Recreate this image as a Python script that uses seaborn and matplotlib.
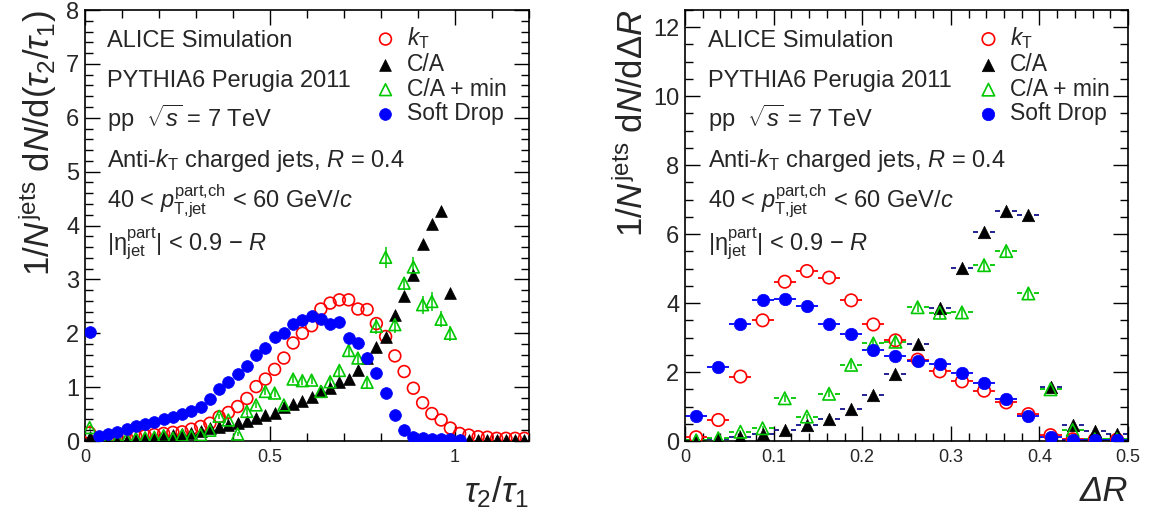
import numpy as np
import pandas as pd
import matplotlib
matplotlib.use("Agg")
import matplotlib.pyplot as plt
from matplotlib.path import Path
from matplotlib.ticker import MultipleLocator, FuncFormatter
import seaborn as sns

# ---- tau2/tau1 panel: 48 bins of width 0.025 on [0, 1.2]
tau_edges = np.linspace(0, 1.2, 49)
tau_x = 0.5 * (tau_edges[1:] + tau_edges[:-1])

kt_tau = [0.15, 0.03, 0.04, 0.05, 0.06, 0.08, 0.10, 0.12, 0.14, 0.16, 0.17, 0.22,
          0.27, 0.33, 0.45, 0.53, 0.64, 0.79, 1.01, 1.15, 1.33, 1.54, 1.82, 2.00,
          2.14, 2.45, 2.56, 2.62, 2.62, 2.45, 2.44, 2.18, 1.94, 1.58, 1.29, 0.98,
          0.71, 0.51, 0.39, 0.24, 0.14, 0.11, 0.08, 0.07, 0.05, 0.05, 0.05, 0.05]
ca_tau = [0.08, 0.01, 0.01, 0.02, 0.02, 0.03, 0.05, 0.07, 0.10, 0.11, 0.13, 0.15,
          0.18, 0.24, 0.26, 0.29, 0.33, 0.38, 0.42, 0.48, 0.52, 0.63, 0.68, 0.75,
          0.82, 0.92, 0.98, 1.10, 1.15, 1.32, 1.54, 1.74, 1.94, 2.34, 2.69, 3.09,
          3.65, 4.02, 4.27, 2.75, 0.01, 0.02, 0.02, 0.02, 0.02, 0.02, 0.02, 0.02]
camin_tau = [0.25, 0.02, 0.02, 0.03, 0.04, 0.05, 0.06, 0.07, 0.10, 0.05, 0.11, 0.09,
             0.12, 0.20, 0.46, 0.39, 0.13, 0.55, 0.67, 0.92, 0.89, 0.67, 1.15, 1.12,
             1.13, 0.92, 1.10, 1.31, 1.68, 1.54, 1.09, 2.13, 3.41, 2.16, 2.93, 3.23,
             2.53, 2.59, 2.26, 2.00]
camin_tau_err = [0.05, 0.01, 0.01, 0.01, 0.01, 0.01, 0.02, 0.02, 0.02, 0.02, 0.03, 0.03,
                 0.03, 0.04, 0.05, 0.05, 0.04, 0.06, 0.06, 0.07, 0.07, 0.06, 0.08, 0.08,
                 0.08, 0.08, 0.09, 0.10, 0.11, 0.11, 0.10, 0.14, 0.20, 0.15, 0.12, 0.19,
                 0.17, 0.17, 0.15, 0.14]
sd_tau = [2.03, 0.09, 0.13, 0.17, 0.22, 0.27, 0.32, 0.36, 0.41, 0.45, 0.51, 0.56,
          0.64, 0.78, 0.96, 1.10, 1.24, 1.40, 1.60, 1.72, 1.94, 2.00, 2.17, 2.24,
          2.32, 2.26, 2.18, 2.20, 1.92, 1.82, 1.54, 1.26, 0.89, 0.48, 0.20, 0.08,
          0.05, 0.04, 0.03, 0.03, 0.02]

# ---- Delta R panel: 20 bins of width 0.025 on [0, 0.5]
dr_edges = np.linspace(0, 0.5, 21)
dr_x = 0.5 * (dr_edges[1:] + dr_edges[:-1])

kt_dr = [0.11, 0.61, 1.87, 3.50, 4.62, 4.93, 4.74, 4.08, 3.38, 2.92,
         2.36, 2.02, 1.73, 1.46, 1.12, 0.78, 0.17, 0.05, 0.04, 0.04]
ca_dr = [0.02, 0.05, 0.13, 0.19, 0.32, 0.47, 0.63, 0.92, 1.34, 1.93,
         2.80, 3.86, 5.03, 6.07, 6.68, 6.55, 1.56, 0.47, 0.30, 0.20]
camin_dr = [0.02, 0.08, 0.27, 0.37, 1.24, 0.71, 1.37, 2.21, 2.83, 2.88,
            3.88, 3.72, 3.73, 5.10, 5.51, 4.28, 1.50, 0.32, 0.05, 0.05]
camin_dr_err = [0.02, 0.03, 0.05, 0.06, 0.10, 0.08, 0.10, 0.12, 0.13, 0.13,
                0.15, 0.15, 0.15, 0.17, 0.18, 0.15, 0.10, 0.05, 0.02, 0.02]
sd_dr = [0.74, 2.15, 3.40, 4.08, 4.13, 3.91, 3.40, 3.11, 2.65, 2.47,
         2.31, 2.23, 1.97, 1.68, 1.22, 0.73, 0.13, 0.03, 0.02, 0.02]

labels = ["$k_{\\rm T}$", "C/A", "C/A + min", "Soft Drop"]
info_lines = ["ALICE Simulation",
              "PYTHIA6 Perugia 2011",
              "pp  $\\sqrt{s}$ = 7 TeV",
              "Anti-$k_{\\rm T}$ charged jets, $R$ = 0.4",
              "40 < $p_{\\rm T{,}jet}^{\\rm part{,}ch}$ < 60 GeV/$c$",
              "|$\\mathrm{\\eta}_{\\rm jet}^{\\rm part}$| < 0.9 \u2212 $R$"]

RED, BLACK, GREEN, BLUE, NAVY = "#ff0000", "#000000", "#00c800", "#0000ff", "#10108a"

sns.set_style("ticks")
plt.rcParams["font.family"] = ["Liberation Sans", "DejaVu Sans"]
plt.rcParams["mathtext.fontset"] = "custom"
plt.rcParams["mathtext.rm"] = "Liberation Sans"
plt.rcParams["mathtext.it"] = "Liberation Sans:italic"
plt.rcParams["mathtext.bf"] = "Liberation Sans:bold"

fig = plt.figure(figsize=(11.5, 5.16), dpi=100)
ax1 = fig.add_axes([0.0739, 0.1453, 0.3861, 0.8353])
ax2 = fig.add_axes([0.5957, 0.1453, 0.3852, 0.8353])

# horizontal "bin width" bar with a gap where the marker sits
gap_bar = Path([(-1, 0), (-0.5, 0), (0.5, 0), (1, 0)],
               [Path.MOVETO, Path.LINETO, Path.MOVETO, Path.LINETO])


def style_axes(ax, xlim, ylim, xmaj, xmin, ymaj, ymin):
    ax.set_xlim(*xlim)
    ax.set_ylim(*ylim)
    ax.xaxis.set_major_locator(MultipleLocator(xmaj))
    ax.xaxis.set_minor_locator(MultipleLocator(xmin))
    ax.yaxis.set_major_locator(MultipleLocator(ymaj))
    ax.yaxis.set_minor_locator(MultipleLocator(ymin))
    fmt = FuncFormatter(lambda v, _: f"{v:g}")
    ax.xaxis.set_major_formatter(fmt)
    ax.yaxis.set_major_formatter(fmt)
    ax.tick_params(which="both", direction="in", top=True, right=True,
                   width=1, color="black")
    ax.tick_params(which="major", length=11)
    ax.tick_params(which="minor", length=6)
    ax.tick_params(axis="x", labelsize=13, pad=6)
    ax.tick_params(axis="y", labelsize=17, pad=4)
    for s in ax.spines.values():
        s.set_linewidth(1.2)
        s.set_color("black")


def draw_series(ax, x, series, errs=None, bars=False, bin_w=None, s=56):
    # series: list of (values, marker, color, filled, barcolor)
    for (vals, marker, color, filled, barcolor), lab in zip(series, labels):
        df = pd.DataFrame({"x": x[:len(vals)], "y": vals})
        if bars:
            p0 = ax.transData.transform((0, 0))
            p1 = ax.transData.transform((bin_w, 0))
            ms = (p1[0] - p0[0]) * 72 / fig.dpi
            ax.plot(df["x"], df["y"], ls="none", marker=gap_bar, ms=ms,
                    mew=1.3, color=barcolor, mfc="none", zorder=2)
        if errs is not None and lab in errs:
            ax.errorbar(df["x"], df["y"], yerr=errs[lab], fmt="none",
                        ecolor=color, elinewidth=1.1, zorder=2)
        if filled:
            sns.scatterplot(data=df, x="x", y="y", ax=ax, marker=marker, s=s,
                            color=color, edgecolor=color, linewidth=0.5,
                            label=lab, legend=False, zorder=3)
        else:
            sns.scatterplot(data=df, x="x", y="y", ax=ax, marker=marker, s=s,
                            facecolor="none", edgecolor=color, linewidth=1.2,
                            label=lab, legend=False, zorder=3)


def annotate(ax, x0):
    ys = [0.914, 0.821, 0.729, 0.636, 0.543, 0.443]
    for y, t in zip(ys, info_lines):
        ax.text(x0, y, t, transform=ax.transAxes, fontsize=17, va="baseline",
                ha="left")


# ---- left panel
style_axes(ax1, (0, 1.2), (0, 8), 0.5, 0.1, 1, 0.2)
draw_series(ax1, tau_x,
            [(kt_tau, "o", RED, False, RED),
             (ca_tau, "^", BLACK, True, NAVY),
             (camin_tau, "^", GREEN, False, GREEN),
             (sd_tau, "o", BLUE, True, BLUE)],
            errs={"C/A + min": camin_tau_err}, s=72)
annotate(ax1, 0.05)
ax1.legend(loc="upper left", bbox_to_anchor=(0.651, 0.965), frameon=False,
           fontsize=16.5, handlelength=1.0, handletextpad=0.45, borderpad=0,
           borderaxespad=0, labelspacing=0.08, scatterpoints=1)
ax1.set_xlabel("$\\tau_{2}/\\tau_{1}$", loc="right", fontsize=25, labelpad=6)
ax1.set_ylabel("1/$N^{\\rm jets}$ d$N$/d($\\tau_{2}/\\tau_{1}$)", loc="top",
               fontsize=25, labelpad=5)

# ---- right panel
style_axes(ax2, (0, 0.5), (0, 12.5), 0.1, 0.02, 2, 0.5)
draw_series(ax2, dr_x,
            [(kt_dr, "o", RED, False, RED),
             (ca_dr, "^", BLACK, True, NAVY),
             (camin_dr, "^", GREEN, False, GREEN),
             (sd_dr, "o", BLUE, True, BLUE)],
            errs={"C/A + min": camin_dr_err}, bars=True,
            bin_w=dr_edges[1] - dr_edges[0], s=80)
annotate(ax2, 0.052)
ax2.legend(loc="upper left", bbox_to_anchor=(0.659, 0.965), frameon=False,
           fontsize=16.5, handlelength=1.0, handletextpad=0.45, borderpad=0,
           borderaxespad=0, labelspacing=0.08, scatterpoints=1)
ax2.set_xlabel("\u0394R", loc="right", fontsize=25, fontstyle="italic",
               labelpad=6)
ax2.set_ylabel("1/$N^{\\rm jets}$ d$N$/d$\\mathit{\\Delta R}$", loc="top",
               fontsize=25, labelpad=2)

fig.savefig("out.png", dpi=100)
